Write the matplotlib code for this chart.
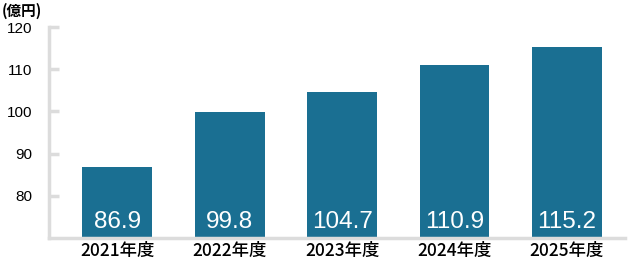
import matplotlib
matplotlib.use("Agg")
import matplotlib.pyplot as plt

# --- data ---
years = ["2021年度", "2022年度", "2023年度", "2024年度", "2025年度"]
values = [86.9, 99.8, 104.7, 110.9, 115.2]
yticks = [80, 90, 100, 110, 120]

bar_color = "#1a6f92"
axis_color = "#dcdcdc"
cjk = ["Noto Sans CJK JP", "DejaVu Sans"]

fig = plt.figure(figsize=(6.3, 2.7), dpi=100)
ax = fig.add_axes([0.078, 0.118, 0.914, 0.782])

x = range(len(years))
ax.bar(x, values, width=0.62, color=bar_color, zorder=2)

# --- value labels inside bars ---
for i, v in zip(x, values):
    ax.text(i, 72.4, f"{v:.1f}", ha="center", va="baseline", color="white",
            fontsize=17.5, family="Liberation Sans")

ax.set_ylim(70, 120)
ax.set_xlim(-0.605, 4.515)
ax.set_yticks(yticks)
ax.set_yticklabels([str(t) for t in yticks], family="Liberation Sans", fontsize=11)
ax.set_xticks(list(x))
ax.set_xticklabels(years, family=cjk, fontsize=12.5, fontweight="medium")

ax.tick_params(axis="y", direction="in", length=7, width=2.5, color=axis_color, pad=12)
ax.tick_params(axis="x", length=0, pad=3)

for s in ["top", "right"]:
    ax.spines[s].set_visible(False)
for s in ["left", "bottom"]:
    ax.spines[s].set_color(axis_color)
    ax.spines[s].set_linewidth(2.5)

fig.text(0.002, 0.99, "(億円)", ha="left", va="top", family=cjk,
         fontsize=10.5, fontweight="bold")

fig.savefig("out.png", dpi=100)
